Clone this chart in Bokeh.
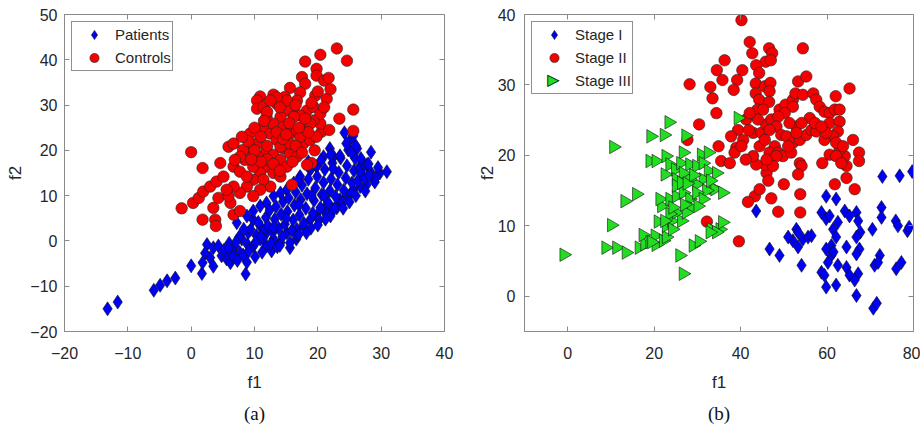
from bokeh.plotting import figure
from bokeh.models import LinearAxis, Range1d, FixedTicker, Title, Label, LegendItem
from bokeh.layouts import row
from bokeh.embed import file_html
from bokeh.resources import INLINE
import math

# ---------------- Panel (a) data ----------------
patients = [
    (-13.2, -15.0), (-11.6, -13.5), (-5.9, -10.9), (-4.9, -9.8), (-3.8, -8.8), (-2.5, -8.2), (0.0, -5.5),
    (1.7, -7.2), (2.5, -0.8), (2.2, -2.7), (3.5, -1.5), (3.0, -3.7), (3.5, -5.6), (1.8, -4.8), (4.3, -1.1),
    (4.8, -3.3), (5.6, -4.0), (6.4, -2.2), (6.2, -4.8), (6.9, -1.1), (7.7, -2.6), (8.6, -7.3), (8.8, -4.7),
    (7.2, 4.0), (8.0, 0.4), (9.0, 1.8), (9.8, 4.7), (9.8, -1.1), (10.9, 0.4), (10.9, 3.3), (11.9, 1.8),
    (11.9, -1.1), (12.7, -2.2), (13.0, 0.4), (14.1, -0.4), (15.6, -1.5), (15.1, 1.8), (16.6, 0.4), (16.7, 2.6),
    (17.7, 3.3), (18.8, 4.7), (19.8, 5.5), (20.9, 6.9), (21.9, 7.7), (23.0, 7.3), (23.5, 9.1), (24.6, 9.9),
    (25.6, 11.3), (26.7, 12.0), (27.7, 12.4), (28.8, 13.5), (29.8, 15.0), (30.9, 15.3), (28.4, 19.6),
    (24.2, 23.9), (25.1, 22.3), (26.2, 20.4), (27.2, 16.4), (28.3, 15.3), (21.9, 20.4), (22.5, 18.6),
    (20.9, 18.6), (19.8, 16.4), (18.8, 15.7), (17.2, 14.2), (16.2, 12.8), (15.1, 11.3), (14.1, 10.6),
    (13.0, 9.9), (11.9, 8.4), (10.9, 7.7), (9.8, 6.6), (8.8, 5.5),
    (8.2, -3.1), (8.9, -0.8), (9.4, 2.5), (9.1, -2.2), (10.1, -3.5), (10.3, 1.2), (10.6, 4.1), (10.2, -0.3),
    (11.2, -2.5), (11.5, 2.2), (11.8, 5.2), (11.3, 0.5), (12.1, 3.4), (12.4, 6.8), (12.6, -0.6), (12.9, 1.9),
    (13.2, 4.8), (13.4, 7.6), (13.6, -1.3), (13.8, 2.8), (14.2, 5.9), (14.5, 8.7), (14.4, 0.9), (14.8, 3.7),
    (15.2, 6.5), (15.4, 9.5), (15.6, -0.4), (15.9, 2.3), (16.1, 4.6), (16.3, 7.9), (16.5, 10.8), (16.8, 1.2),
    (17.1, 5.7), (17.3, 9.1), (17.5, 12.3), (17.8, 3.9), (18.1, 7.2), (18.3, 10.4), (18.5, 13.6), (18.9, 2.8),
    (19.2, 6.1), (19.4, 8.9), (19.6, 11.7), (19.9, 14.2), (20.2, 4.6), (20.4, 7.3), (20.6, 10.2), (20.9, 12.9),
    (21.1, 15.8), (21.4, 5.9), (21.6, 8.5), (21.9, 11.1), (22.1, 13.7), (22.3, 17.2), (22.6, 7.1), (22.8, 9.8),
    (23.1, 12.4), (23.3, 15.1), (23.6, 18.3), (23.9, 8.4), (24.1, 11.2), (24.4, 13.9), (24.6, 16.6),
    (24.8, 20.1), (25.2, 10.5), (25.4, 12.8), (25.7, 15.5), (25.9, 18.2), (26.3, 13.3), (26.5, 16.1),
    (26.8, 14.9), (27.1, 17.4), (27.4, 13.8), (27.8, 16.9), (28.1, 14.6), (29.2, 14.1), (29.5, 16.2),
    (22.4, 16.0), (21.0, 10.0), (19.0, 10.0), (17.0, 8.0), (15.0, 5.0), (13.0, 3.0), (11.0, 1.0),
    (24.5, 21.5), (25.3, 19.5), (23.5, 18.8), (22.0, 19.0), (26.0, 21.0), (26.8, 18.2), (28.0, 17.0),
    (19.0, 16.2), (18.5, 17.5), (17.0, 13.5), (20.5, 17.8), (25.6, 23.2),
    (14.0, -1.0), (17.0, 1.5), (20.0, 3.5), (22.0, 5.5), (24.0, 7.2), (26.0, 10.0), (27.5, 11.0),
    (29.0, 13.0), (18.2, 1.8), (21.2, 4.8), (25.0, 8.6),
    (5.2, -2.0), (6.0, -0.5), (6.6, -3.4), (7.3, -4.3), (7.6, 0.9), (8.3, 2.6), (7.1, -0.2), (5.9, -1.6),
]

controls = [
    (23.0, 42.5), (20.4, 41.1), (24.6, 39.8), (18.0, 39.6), (19.8, 38.0), (19.8, 36.5), (21.0, 35.4),
    (21.7, 36.0), (17.5, 36.2), (18.0, 34.7), (15.6, 33.8), (17.2, 32.8), (13.0, 32.3), (10.9, 31.9),
    (10.4, 31.0), (10.4, 29.2), (14.8, 31.8), (21.4, 31.4), (19.6, 32.1), (25.6, 29.0), (23.4, 27.0),
    (25.6, 24.3), (20.6, 24.1), (21.8, 24.5), (0.0, 19.6), (1.8, 16.1), (-1.5, 7.2), (0.3, 8.4),
    (1.8, 4.7), (3.8, 4.7), (3.9, 3.3), (4.6, 17.2), (15.9, 12.4), (19.0, 17.2), (18.3, 16.8),
    (6.7, 5.8), (7.7, 6.6), (3.5, 7.3), (4.3, 9.5), (6.2, 8.4), (5.9, 9.9), (1.2, 9.5), (1.9, 10.9),
    (3.0, 12.0), (4.0, 13.1), (5.1, 14.2), (5.9, 20.8), (6.7, 21.5), (6.7, 16.4), (7.7, 15.3),
    (8.5, 17.9), (9.3, 23.7), (10.4, 21.5), (11.4, 25.2), (12.5, 23.7), (13.5, 22.3), (14.6, 20.4),
    (15.6, 19.3), (16.7, 18.6), (17.7, 21.5), (18.8, 22.3), (19.8, 23.0), (20.4, 25.9), (19.3, 26.6),
    (18.3, 28.8), (17.2, 27.7), (16.2, 29.6), (15.1, 28.8), (14.1, 27.4), (13.0, 25.9), (11.9, 27.4),
    (11.4, 29.6), (19.3, 29.6), (20.4, 28.1), (14.6, 25.2), (15.6, 23.7), (16.7, 24.4), (9.8, 19.3),
    (10.9, 18.6), (11.9, 20.1), (13.0, 19.0), (14.1, 17.9), (15.1, 16.4), (11.9, 16.4), (10.9, 15.0),
    (9.8, 13.5), (8.8, 12.0), (7.7, 10.6), (6.7, 12.0), (5.6, 11.3), (8.8, 14.2), (9.8, 16.4),
    (13.0, 15.0), (14.1, 14.2), (9.3, 20.8), (8.2, 20.1), (7.7, 18.6), (6.9, 17.9), (12.5, 12.0),
    (11.4, 13.5), (10.9, 11.3), (9.8, 9.9), (14.1, 20.8), (15.6, 21.5), (17.2, 23.0), (17.7, 25.2),
    (18.8, 25.9), (16.2, 27.4), (16.7, 31.0), (15.1, 31.0), (13.5, 30.3), (13.5, 31.7), (12.5, 31.0),
    (9.0, 22.0), (10.0, 25.0), (11.0, 23.0), (12.0, 21.0), (13.5, 24.0), (14.5, 22.5), (15.5, 26.0),
    (16.5, 21.0), (17.5, 19.5), (18.5, 24.0), (19.5, 20.0), (12.0, 18.0), (13.0, 17.0), (14.0, 15.5),
    (11.0, 17.5), (10.0, 20.0), (8.0, 23.0), (9.5, 18.0), (16.0, 17.5), (17.0, 25.0), (18.0, 27.0),
    (19.0, 30.5), (20.0, 33.0), (21.0, 29.5), (22.0, 33.5), (14.0, 29.5), (12.0, 28.5), (11.5, 26.5),
    (16.5, 30.0), (15.0, 23.5),
]

# ---------------- Panel (b) data ----------------
stage1 = [
    (79.7, 17.7), (76.8, 17.1), (72.8, 17.0), (72.6, 12.6), (72.6, 11.2), (70.5, 9.5), (75.9, 10.7),
    (76.4, 10.0), (78.6, 9.3), (59.8, 14.2), (62.1, 13.8), (64.1, 12.1), (66.8, 11.9), (65.2, 11.4),
    (67.2, 10.7), (58.7, 11.9), (59.8, 11.0), (60.6, 11.4), (62.5, 10.5), (61.4, 9.5), (67.7, 9.1),
    (66.8, 8.4), (62.1, 8.4), (61.0, 7.2), (59.8, 6.7), (64.5, 7.0), (67.5, 6.7), (66.8, 6.0),
    (61.0, 5.8), (60.2, 4.8), (58.7, 3.4), (59.4, 3.0), (62.5, 4.4), (64.5, 4.1), (65.2, 3.0),
    (67.2, 3.2), (66.4, 2.3), (59.8, 1.3), (62.1, 1.6), (66.8, 0.1), (70.7, -1.7), (71.5, -1.0),
    (71.0, 4.4), (72.2, 5.8), (71.8, 4.8), (76.0, 3.9), (77.2, 4.8), (52.9, 9.5), (53.3, 9.1),
    (52.1, 7.9), (53.3, 7.0), (54.4, 8.1), (55.6, 8.4), (56.4, 8.6), (51.0, 8.4), (54.1, 4.4),
    (46.7, 6.7), (49.0, 5.8), (43.6, 12.1), (79.0, 9.8), (61.5, 6.3),
]

stage2 = [
    (40.2, 39.2), (42.1, 36.1), (42.7, 34.5), (46.6, 35.2), (47.3, 34.5), (45.8, 33.3), (47.0, 33.5),
    (54.4, 35.2), (36.3, 33.5), (34.5, 32.1), (35.8, 30.7), (40.4, 32.1), (39.2, 30.7), (38.4, 29.3),
    (28.2, 30.1), (33.0, 29.7), (33.5, 28.1), (34.4, 26.0), (30.4, 24.4), (34.9, 21.3), (35.5, 19.2),
    (37.5, 18.9), (27.7, 22.2), (32.2, 10.6), (39.6, 7.8), (43.6, 32.8), (44.3, 31.7), (43.5, 30.2),
    (43.5, 28.8), (44.3, 27.9), (45.6, 29.8), (46.9, 30.3), (46.7, 29.1), (46.6, 27.6), (42.9, 25.8),
    (43.9, 26.5), (41.3, 25.1), (39.4, 23.6), (37.8, 22.7), (40.6, 22.2), (42.9, 23.2), (44.8, 23.2),
    (45.9, 24.4), (47.1, 25.1), (49.0, 26.5), (50.4, 27.2), (52.1, 27.9), (52.7, 28.8), (53.3, 30.5),
    (55.2, 31.2), (54.4, 28.6), (52.1, 26.9), (50.2, 26.0), (48.7, 25.5), (48.3, 24.1), (46.7, 23.6),
    (49.4, 22.9), (50.6, 22.7), (52.1, 21.8), (53.7, 22.2), (55.2, 22.9), (56.4, 23.6), (57.5, 23.4),
    (56.0, 25.3), (57.2, 24.6), (56.8, 28.8), (57.5, 27.9), (58.3, 26.9), (59.4, 26.2), (60.6, 26.0),
    (60.6, 24.6), (61.8, 26.5), (62.0, 28.4), (62.9, 26.5), (62.9, 24.8), (62.5, 23.4), (61.4, 22.7),
    (59.4, 22.2), (59.8, 23.2), (58.7, 24.1), (65.2, 29.5), (66.0, 22.2), (67.4, 20.4), (67.4, 19.2),
    (66.4, 15.2), (64.5, 16.8), (64.5, 18.5), (64.1, 19.9), (62.9, 20.8), (62.1, 21.8), (63.7, 21.3),
    (60.6, 20.1), (58.9, 18.9), (62.1, 19.9), (63.3, 18.9), (61.8, 15.9), (53.7, 18.9), (54.1, 18.5),
    (53.3, 17.3), (53.8, 14.5), (53.8, 11.9), (50.0, 15.9), (48.7, 12.0), (47.1, 13.9), (43.3, 14.2),
    (41.7, 13.4), (44.4, 15.2), (46.0, 17.5), (46.4, 16.4), (45.6, 18.7), (43.6, 18.7), (42.9, 19.9),
    (41.2, 19.4), (39.0, 21.1), (38.6, 20.4), (40.2, 21.3), (47.9, 21.3), (46.7, 20.4), (48.7, 20.4),
    (49.8, 19.9), (51.7, 20.4), (51.0, 21.3), (48.3, 19.9), (47.5, 18.5), (46.0, 19.4), (44.4, 21.3),
    (45.6, 22.2), (44.0, 25.1), (41.9, 23.6), (42.1, 26.0), (45.2, 26.5), (52.9, 24.1), (54.1, 24.6),
    (51.3, 24.6), (52.9, 23.2),
]

stage3 = [
    (-0.9, 5.9), (8.8, 6.9), (11.3, 6.9), (13.5, 6.2), (10.1, 10.1), (10.6, 21.2), (13.2, 13.5),
    (15.9, 14.5), (16.5, 6.9), (17.8, 7.4), (17.4, 8.7), (19.0, 7.7), (20.4, 7.3), (20.2, 8.6),
    (22.1, 7.9), (22.8, 8.4), (20.9, 10.6), (22.8, 10.0), (24.0, 10.7), (26.3, 10.7), (25.1, 11.9),
    (23.6, 11.7), (21.7, 12.8), (21.3, 13.8), (23.6, 13.8), (25.1, 14.2), (26.7, 14.7), (28.2, 13.8),
    (28.6, 12.6), (27.4, 11.9), (25.9, 5.8), (26.7, 3.2), (29.0, 7.2), (30.4, 7.8), (19.2, 22.7),
    (22.3, 22.9), (23.4, 24.7), (27.3, 22.8), (26.7, 20.4), (30.9, 20.1), (32.5, 20.4), (19.0, 19.2),
    (20.4, 19.2), (22.7, 19.9), (23.6, 18.7), (22.5, 17.3), (24.9, 18.0), (26.1, 18.9), (28.2, 18.7),
    (29.8, 18.5), (31.3, 18.9), (32.5, 17.8), (34.4, 17.5), (31.3, 16.6), (29.8, 15.9), (28.2, 16.6),
    (26.7, 17.5), (25.1, 16.6), (25.1, 15.7), (26.3, 16.1), (33.6, 15.4), (34.0, 15.2), (35.8, 14.7),
    (32.1, 15.0), (29.8, 14.7), (31.3, 13.8), (30.1, 12.8), (33.2, 9.5), (35.2, 9.5), (34.4, 9.1),
    (35.8, 10.5), (32.9, 9.1), (39.4, 25.3), (22.4, 10.7), (24.2, 9.5), (19.4, 7.7), (27.6, 16.0),
    (29.1, 17.2), (33.0, 16.4), (24.3, 12.6), (27.0, 13.0),
]

# ---------------- tick values ----------------
a_xticks = [-20, -10, 0, 10, 20, 30, 40]
a_yticks = [-20, -10, 0, 10, 20, 30, 40, 50]
b_xticks = [0, 20, 40, 60, 80]
b_yticks = [0, 10, 20, 30, 40]

SANS = "Liberation Sans"
SERIF = "Liberation Serif"
AX = "#8a8a8a"
TXT = "#262626"
BLUE = "#0000f5"
RED = "#f50000"
GREEN = "#22dd22"
H = 430
FRAME_TOP = 13
FRAME_BOTTOM = 332
LG_MARGIN = 7
LG_PAD = 1
LG_ROW = 23
LG_GLYPH_W = 42
DIAMOND_SIZE = 14
CIRCLE_SIZE = 11.5
TRI_SIZE = 13.5


def style_axis(ax, ticks, labels=True):
    ax.ticker = FixedTicker(ticks=ticks)
    ax.axis_line_color = AX
    ax.axis_line_width = 1
    ax.major_tick_line_color = AX
    ax.major_tick_in = 5
    ax.major_tick_out = 0
    ax.minor_tick_in = 0
    ax.minor_tick_out = 0
    ax.minor_tick_line_color = None
    if labels:
        ax.major_label_text_font = SANS
        ax.major_label_text_font_size = "16px"
        ax.major_label_text_color = TXT
        ax.axis_label_text_font = SANS
        ax.axis_label_text_font_size = "17px"
        ax.axis_label_text_font_style = "normal"
        ax.axis_label_text_color = TXT
    else:
        ax.major_label_text_font_size = "0px"
        ax.major_label_standoff = 0


def make_panel(w, xr, yr, xticks, yticks, ml, mr, mt, ylab_standoff, yaxlab_standoff, tag):
    p = figure(width=w, height=H, x_range=Range1d(*xr), y_range=Range1d(*yr),
               output_backend="svg", toolbar_location=None,
               min_border_left=ml, min_border_right=mr, min_border_top=mt,
               min_border_bottom=H - FRAME_BOTTOM)
    p.xgrid.visible = False
    p.ygrid.visible = False
    p.outline_line_color = AX
    p.background_fill_color = "white"
    p.border_fill_color = "white"
    style_axis(p.xaxis[0], xticks)
    style_axis(p.yaxis[0], yticks)
    p.xaxis[0].axis_label = "f1"
    p.yaxis[0].axis_label = "f2"
    p.xaxis[0].major_label_standoff = 15
    p.xaxis[0].axis_label_standoff = 11
    p.yaxis[0].major_label_standoff = ylab_standoff
    p.yaxis[0].axis_label_standoff = yaxlab_standoff
    top = LinearAxis()
    style_axis(top, xticks, labels=False)
    right = LinearAxis()
    style_axis(right, yticks, labels=False)
    p.add_layout(top, "above")
    p.add_layout(right, "right")
    p.add_layout(Title(text=tag, align="center", text_font=SERIF, text_font_size="19px",
                       text_font_style="normal", text_color="#111111", standoff=13), "below")
    return p


def style_legend(p):
    lg = p.legend[0]
    lg.location = "top_left"
    lg.margin = LG_MARGIN
    lg.padding = LG_PAD
    lg.spacing = 0
    lg.label_height = LG_ROW
    lg.glyph_height = LG_ROW
    lg.glyph_width = LG_GLYPH_W
    lg.label_standoff = 0
    lg.label_text_font = SANS
    lg.label_text_font_size = "15px"
    lg.label_text_color = TXT
    lg.border_line_color = "#222222"
    lg.border_line_width = 1
    lg.background_fill_alpha = 0


pa = make_panel(462, (-20, 40), (-20, 50), a_xticks, a_yticks, 64, 18, FRAME_TOP, 7, 2, "(a)")
pa.scatter([v[0] for v in patients], [v[1] for v in patients], marker="diamond", size=DIAMOND_SIZE,
           fill_color=BLUE, line_color="#111111", line_width=0.6, legend_label="Patients")
pa.scatter([v[0] for v in controls], [v[1] for v in controls], marker="circle", size=CIRCLE_SIZE,
           fill_color=RED, line_color="#222222", line_width=0.6, legend_label="Controls")
style_legend(pa)

pb = make_panel(458, (-10, 80), (-5, 40), b_xticks, b_yticks, 62, 7, FRAME_TOP + 1, 9, -2, "(b)")
pb.scatter([v[0] for v in stage1], [v[1] for v in stage1], marker="diamond", size=DIAMOND_SIZE,
           fill_color=BLUE, line_color="#111111", line_width=0.6, legend_label="Stage I")
pb.scatter([v[0] for v in stage2], [v[1] for v in stage2], marker="circle", size=CIRCLE_SIZE,
           fill_color=RED, line_color="#222222", line_width=0.6, legend_label="Stage II")
pb.scatter([v[0] for v in stage3], [v[1] for v in stage3], marker="triangle", size=TRI_SIZE,
           angle=-math.pi / 2, fill_color=GREEN, line_color="#111111", line_width=0.6)
# legend entry for Stage III: invisible swatch, right-pointing triangle drawn as text on top
dummy = pb.scatter(x=[], y=[], marker="triangle", size=1, fill_alpha=0, line_alpha=0)
pb.legend[0].items.append(LegendItem(label="Stage III", renderers=[dummy]))
style_legend(pb)
frame_h_b = FRAME_BOTTOM - (FRAME_TOP + 1)
tri_x = LG_MARGIN + LG_PAD + LG_GLYPH_W / 2
tri_y = frame_h_b - (LG_MARGIN + LG_PAD + 2 * LG_ROW + LG_ROW / 2)
for ch, col in (("\u25B6", GREEN), ("\u25B7", "#111111")):
    pb.add_layout(Label(x=tri_x, y=tri_y, x_units="screen", y_units="screen", text=ch,
                        text_font="DejaVu Sans", text_font_size="16px", text_color=col,
                        text_align="center", text_baseline="middle", level="overlay"))

layout = row(pa, pb, spacing=0)
open("out.html", "w").write(file_html(layout, INLINE))
